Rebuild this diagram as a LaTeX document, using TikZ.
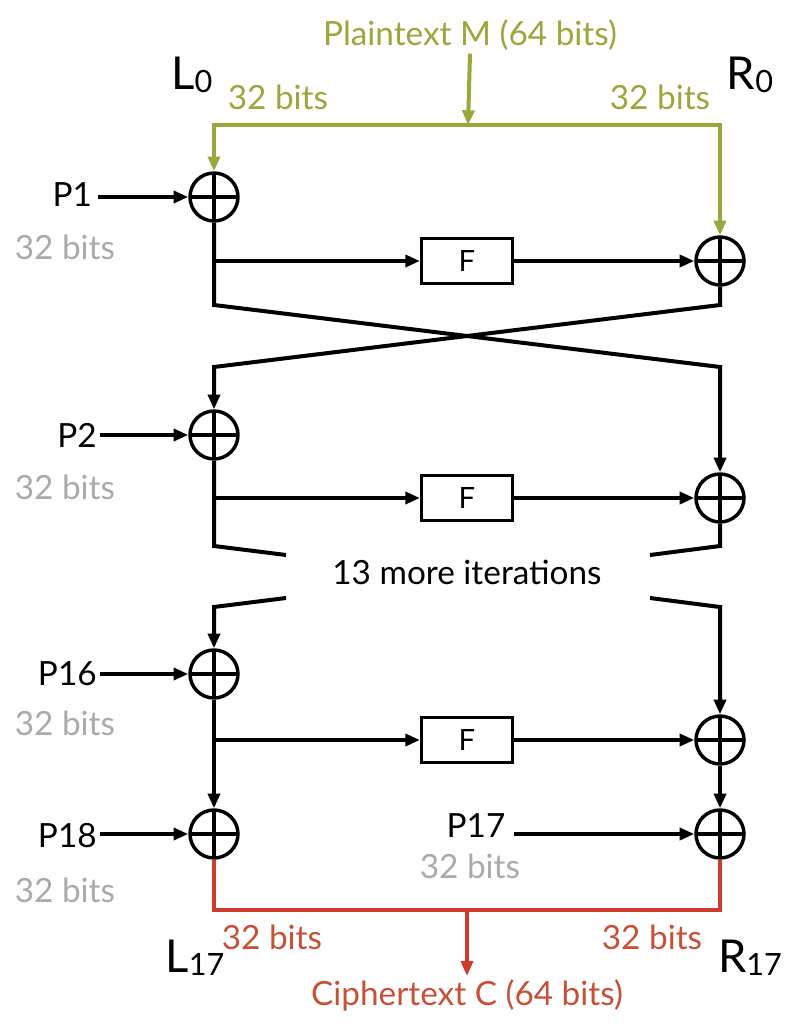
\documentclass[tikz,border=0pt]{standalone}
\usepackage{fontspec}
\setmainfont{Lato}
\usetikzlibrary{arrows.meta}
\definecolor{pgreen}{RGB}{150,170,60}
\definecolor{cred}{RGB}{205,60,45}
\definecolor{ctext}{RGB}{200,80,55}
\definecolor{bgray}{RGB}{170,170,170}
\newcommand\subs[1]{\raisebox{-2pt}{\fontsize{23}{24}\selectfont #1}}
\begin{document}
\begin{tikzpicture}[x=0.75pt,y=-0.75pt,
 line width=3pt,
 arr/.style={-{Triangle[length=11pt,width=9pt]}},
 xorn/.style={circle,draw,line width=2.6pt,minimum size=36pt,inner sep=0pt,
   path picture={\draw[line width=2.6pt] (path picture bounding box.north) -- (path picture bounding box.south)
   (path picture bounding box.west) -- (path picture bounding box.east);}},
 fbox/.style={draw,line width=2.6pt,minimum width=68pt,minimum height=34pt,inner sep=0pt,font=\fontsize{22}{24}\selectfont},
 lbl/.style={font=\fontsize{25}{28}\selectfont,inner sep=1pt},
 big/.style={font=\fontsize{34}{36}\selectfont,inner sep=0pt},
]
\useasboundingbox (0,0) rectangle (800,1023);

% XOR nodes and F boxes
\node[xorn] (xl1) at (214,197) {};
\node[xorn] (xr1) at (720,261) {};
\node[fbox] (f1) at (467,261) {F};
\node[xorn] (xl2) at (214,435) {};
\node[xorn] (xr2) at (720,498) {};
\node[fbox] (f2) at (467,498) {F};
\node[xorn] (xl3) at (214,674) {};
\node[xorn] (xr3) at (720,740) {};
\node[fbox] (f3) at (467,740) {F};
\node[xorn] (xl4) at (214,834) {};
\node[xorn] (xr4) at (720,834) {};

% top labels
\node[lbl,text=pgreen] (pt) at (470,35) {Plaintext M (64 bits)};
\node[big] (l0) at (192,75) {L\subs{0}};
\node[big] (r0) at (750,75) {R\subs{0}};
\node[lbl,text=pgreen] (gl) at (278,97) {32 bits};
\node[lbl,text=pgreen] (gr) at (660,97) {32 bits};

% green split
\coordinate (gtop) at (468,125);
\draw[pgreen,arr] (pt.south) -- (gtop);
\draw[pgreen,arr] (gtop) -| (xl1.north);
\draw[pgreen,arr] (gtop) -| (xr1.north);

% P labels
\node[lbl,anchor=east,inner sep=3pt] (p1) at (98,195) {P1};
\node[lbl,text=bgray] (g1) at (65,247) {32 bits};
\node[lbl,anchor=east] (p2) at (100,435) {P2};
\node[lbl,text=bgray] (g2) at (65,487) {32 bits};
\node[lbl,anchor=east] (p16) at (100,674) {P16};
\node[lbl,text=bgray] (g3) at (65,723) {32 bits};
\node[lbl,anchor=east] (p18) at (100,836) {P18};
\node[lbl,text=bgray] (g4) at (65,890) {32 bits};
\node[lbl] (p17) at (476,826) {P17};
\node[lbl,text=bgray] (g5) at (470,866) {32 bits};

\draw[arr] (p1.east |- xl1.west) -- (xl1.west);
\draw[arr] (p2.east |- xl2.west) -- (xl2.west);
\draw[arr] (p16.east |- xl3.west) -- (xl3.west);
\draw[arr] (p18.east |- xl4.west) -- (xl4.west);
\draw[arr] ([xshift=4pt]p17.east |- xr4.west) -- (xr4.west);

% round 1
\coordinate (b1) at (214,261);
\draw[arr] (b1) -- (f1.west);
\draw[arr] (f1.east) -- (xr1.west);
\coordinate (c1a) at (214,305);
\coordinate (c1b) at (720,367);
\coordinate (c1c) at (720,305);
\coordinate (c1d) at (214,367);
\draw[arr] (xl1.south) -- (c1a) -- (c1b) -- (xr2.north);
\draw[arr] (xr1.south) -- (c1c) -- (c1d) -- (xl2.north);

% round 2
\coordinate (b2) at (214,498);
\draw[arr] (b2) -- (f2.west);
\draw[arr] (f2.east) -- (xr2.west);
\coordinate (c2a) at (214,546);
\coordinate (c2b) at (286,555);
\coordinate (c2c) at (720,546);
\coordinate (c2d) at (650,555);
\draw (xl2.south) -- (c2a) -- (c2b);
\draw (xr2.south) -- (c2c) -- (c2d);

\node[lbl] (more) at (467,572) {13 more iterations};

\coordinate (c3a) at (286,598);
\coordinate (c3b) at (214,607);
\coordinate (c3c) at (650,598);
\coordinate (c3d) at (720,607);
\draw[arr] (c3a) -- (c3b) -- (xl3.north);
\draw[arr] (c3c) -- (c3d) -- (xr3.north);

% round 16
\coordinate (b3) at (214,740);
\draw[arr] (b3) -- (f3.west);
\draw[arr] (f3.east) -- (xr3.west);
\draw[arr] (xl3.south) -- (xl4.north);
\draw[arr] (xr3.south) -- (xr4.north);

% output
\coordinate (rl) at (214,910);
\coordinate (rr) at (720,910);
\coordinate (rm) at (467,910);
\node[lbl,text=ctext] (ct) at (467,995) {Ciphertext C (64 bits)};
\draw[cred,line width=2.3pt] (xl4.south) -- (rl) -- (rr) -- (xr4.south);
\draw[cred,line width=2.3pt,arr] (rm) -- (ct.north);
\node[big] (l17) at (195,958) {L\subs{17}};
\node[big] (r17) at (750,958) {R\subs{17}};
\node[lbl,text=ctext] (cl) at (272,937) {32 bits};
\node[lbl,text=ctext] (cr) at (652,937) {32 bits};
\end{tikzpicture}
\end{document}
